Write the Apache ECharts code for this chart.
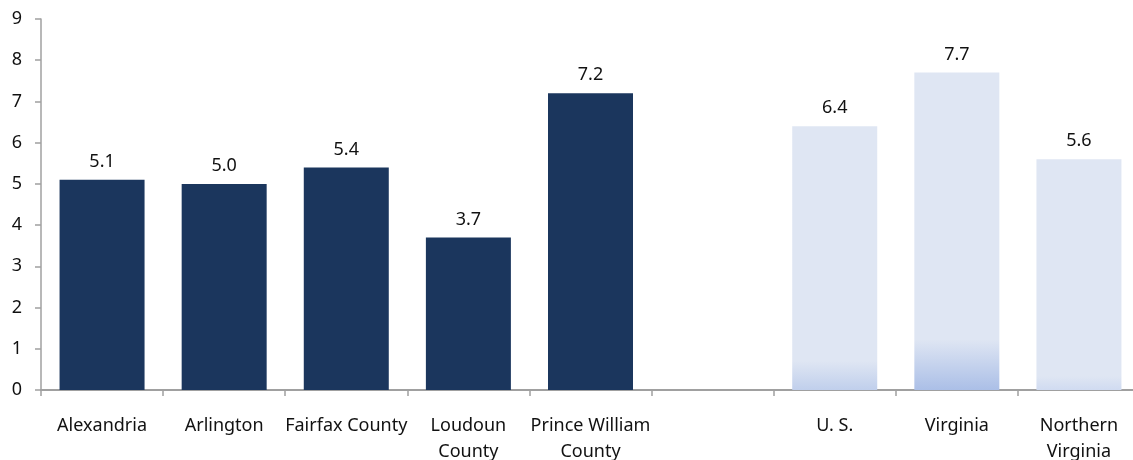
<!DOCTYPE html>
<html>
<head>
<meta charset="utf-8">
<script src="https://cdn.jsdelivr.net/npm/echarts@6/dist/echarts.min.js"></script>
<style>html,body{margin:0;padding:0;background:#fff;}#c{width:1133px;height:460px;}</style>
</head>
<body>
<div id="c"></div>
<script>
var categories = ['Alexandria', 'Arlington', 'Fairfax County', 'Loudoun\nCounty', 'Prince William\nCounty', '', 'U. S.', 'Virginia', 'Northern\nVirginia'];
var values = [5.1, 5.0, 5.4, 3.7, 7.2, null, 6.4, 7.7, 5.6];
var yTicks = [0, 1, 2, 3, 4, 5, 6, 7, 8, 9];

var DARK = '#1b365d';
var LIGHT = '#dfe6f3';
// bottom tint for light bars: [offset where gradient starts, bottom colour]
var lightStyle = {
  'U. S.': [0.89, '#c0cfec'],
  'Virginia': [0.84, '#abbfe7'],
  'Northern\nVirginia': [0.94, '#d0dbf1']
};

var data = values.map(function (v, i) {
  var c = categories[i];
  if (v === null) return { value: null };
  if (lightStyle[c]) {
    var s = lightStyle[c];
    return {
      value: v,
      itemStyle: {
        color: new echarts.graphic.LinearGradient(0, 0, 0, 1, [
          { offset: 0, color: LIGHT },
          { offset: s[0], color: LIGHT },
          { offset: 1, color: s[1] }
        ])
      }
    };
  }
  return { value: v, itemStyle: { color: DARK } };
});

var chart = echarts.init(document.getElementById('c'), null, { renderer: 'canvas' });
var FONT = 'Noto Sans';
chart.setOption({
  animation: false,
  backgroundColor: '#ffffff',
  grid: { left: 41, top: 19, width: 1099, height: 371, containLabel: false, outerBoundsMode: 'none' },
  xAxis: {
    type: 'category',
    data: categories,
    axisLine: { lineStyle: { color: '#a0a0a0', width: 2 } },
    axisTick: { show: true, length: 6, alignWithLabel: false, lineStyle: { color: '#a0a0a0', width: 1.5 } },
    axisLabel: { color: '#111', fontFamily: FONT, fontSize: 18, margin: 23, lineHeight: 26, interval: 0 }
  },
  yAxis: {
    type: 'value',
    min: yTicks[0],
    max: yTicks[yTicks.length - 1],
    interval: 1,
    splitLine: { show: false },
    axisLine: { show: true, lineStyle: { color: '#a0a0a0', width: 1.5 } },
    axisTick: { show: true, length: 6, lineStyle: { color: '#a0a0a0', width: 1.5 } },
    axisLabel: { color: '#111', fontFamily: FONT, fontSize: 18, margin: 19 }
  },
  series: [{
    type: 'bar',
    data: data,
    barWidth: 85,
    label: {
      show: true,
      position: 'top',
      distance: 9,
      color: '#111',
      fontFamily: FONT,
      fontSize: 18,
      formatter: function (p) { return p.value == null ? '' : p.value.toFixed(1); }
    }
  }]
});
</script>
</body>
</html>
